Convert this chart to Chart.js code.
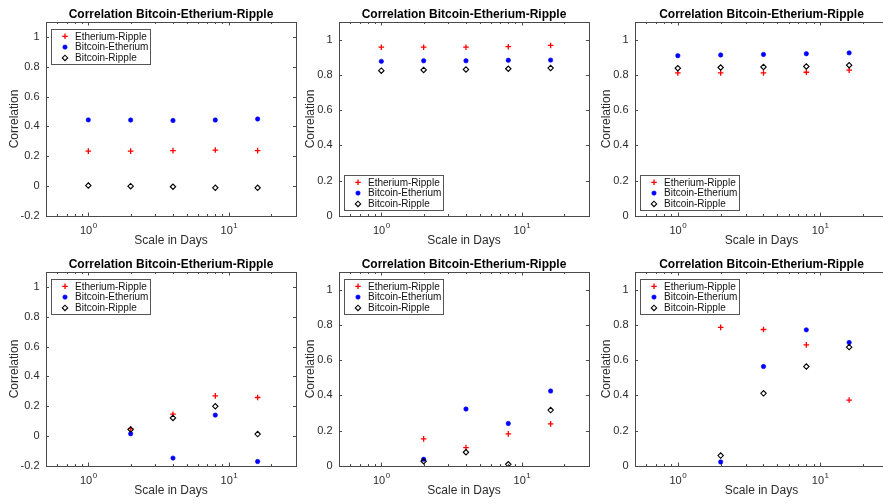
<!DOCTYPE html>
<html><head><meta charset="utf-8">
<script src="https://cdn.jsdelivr.net/npm/chart.js@4.4.1/dist/chart.umd.min.js"></script>
<style>
html,body{margin:0;padding:0;background:#fff;overflow:hidden;width:883px;height:504px;position:relative;}
canvas{position:absolute;}
</style></head><body>
<script>
// ---------- data ----------
const scaleDays = [1, 2, 4, 8, 16];
const seriesLabels = ['Etherium-Ripple', 'Bitcoin-Etherium', 'Bitcoin-Ripple'];
const chartTitle = 'Correlation Bitcoin-Etherium-Ripple';
const xAxisTitle = 'Scale in Days';
const yAxisTitle = 'Correlation';
const xMajorTicks = [1, 10];
const xMinorTicks = [0.6, 0.7, 0.8, 0.9, 2, 3, 4, 5, 6, 7, 8, 9, 20];

const p1EtheriumRipple  = [0.235, 0.235, 0.238, 0.242, 0.238];
const p1BitcoinEtherium = [0.444, 0.443, 0.440, 0.443, 0.450];
const p1BitcoinRipple   = [0.004, 0.000, -0.004, -0.011, -0.011];

const p2EtheriumRipple  = [0.957, 0.957, 0.957, 0.960, 0.967];
const p2BitcoinEtherium = [0.877, 0.880, 0.880, 0.883, 0.884];
const p2BitcoinRipple   = [0.824, 0.828, 0.831, 0.835, 0.839];

const p3EtheriumRipple  = [0.811, 0.811, 0.811, 0.815, 0.827];
const p3BitcoinEtherium = [0.909, 0.913, 0.916, 0.920, 0.925];
const p3BitcoinRipple   = [0.838, 0.842, 0.845, 0.848, 0.855];

const p4EtheriumRipple  = [null, 0.050, 0.147, 0.270, 0.259];
const p4BitcoinEtherium = [null, 0.016, -0.147, 0.141, -0.170];
const p4BitcoinRipple   = [null, 0.045, 0.122, 0.200, 0.014];

const p5EtheriumRipple  = [null, 0.154, 0.104, 0.182, 0.239];
const p5BitcoinEtherium = [null, 0.038, 0.323, 0.241, 0.425];
const p5BitcoinRipple   = [null, 0.027, 0.078, 0.010, 0.317];

const p6EtheriumRipple  = [null, 0.786, 0.774, 0.687, 0.374];
const p6BitcoinEtherium = [null, 0.023, 0.564, 0.772, 0.700];
const p6BitcoinRipple   = [null, 0.059, 0.412, 0.564, 0.674];

const yMins = [-0.2, 0, 0, -0.2, 0, 0];
const yMax = 1.1;

// ---------- layout / style ----------
const FONT = '"Liberation Sans", Arial, Helvetica, sans-serif';
Chart.defaults.font.family = FONT;
const TXT = '#2b2b2b';
const AX = '#4a4a4a';
const colLefts = [46, 339, 635];
const colWidths = [250, 250, 253];
const rowTops = [22, 272];
const PH = 194;
const AXW = 46, TH = 23, XH = 36, PADR = 8;

const panels = [
  {d: [p1EtheriumRipple, p1BitcoinEtherium, p1BitcoinRipple], legend: 'top'},
  {d: [p2EtheriumRipple, p2BitcoinEtherium, p2BitcoinRipple], legend: 'bottom'},
  {d: [p3EtheriumRipple, p3BitcoinEtherium, p3BitcoinRipple], legend: 'bottom'},
  {d: [p4EtheriumRipple, p4BitcoinEtherium, p4BitcoinRipple], legend: 'top'},
  {d: [p5EtheriumRipple, p5BitcoinEtherium, p5BitcoinRipple], legend: 'top'},
  {d: [p6EtheriumRipple, p6BitcoinEtherium, p6BitcoinRipple], legend: 'top'}
];

const markerStyles = [
  {pointStyle: 'cross', pointRadius: 2.8, borderColor: '#ff0000', backgroundColor: '#ff0000', pointBorderWidth: 1.3, order: 2},
  {pointStyle: 'circle', pointRadius: 2.2, borderColor: '#0000ff', backgroundColor: '#0000ff', pointBorderWidth: 0.6, order: 1},
  {pointStyle: 'rectRot', pointRadius: 2.7, borderColor: '#000000', backgroundColor: 'rgba(0,0,0,0)', pointBorderWidth: 1.1, order: 0}
];

const matlabPlugin = {
  id: 'matlabAxes',
  afterDatasetsDraw(chart) {
    const {ctx, chartArea: a} = chart;
    const x = chart.scales.x, y = chart.scales.y;
    ctx.save();
    ctx.strokeStyle = AX;
    ctx.lineWidth = 1;
    ctx.beginPath();
    y.ticks.forEach(t => {
      const py = Math.round(y.getPixelForValue(t.value)) + 0.5;
      ctx.moveTo(a.left, py); ctx.lineTo(a.left + 3, py);
      ctx.moveTo(a.right, py); ctx.lineTo(a.right - 3, py);
    });
    xMajorTicks.forEach(v => {
      const px = Math.round(x.getPixelForValue(v)) + 0.5;
      ctx.moveTo(px, a.bottom); ctx.lineTo(px, a.bottom - 3.5);
      ctx.moveTo(px, a.top); ctx.lineTo(px, a.top + 3.5);
    });
    xMinorTicks.forEach(v => {
      const px = Math.round(x.getPixelForValue(v)) + 0.5;
      ctx.moveTo(px, a.bottom); ctx.lineTo(px, a.bottom - 2);
      ctx.moveTo(px, a.top); ctx.lineTo(px, a.top + 2);
    });
    ctx.stroke();
    ctx.strokeRect(Math.round(a.left) + 0.5, Math.round(a.top) + 0.5, Math.round(a.right - a.left), Math.round(a.bottom - a.top));
    // x tick labels 10^n
    ctx.fillStyle = TXT;
    ctx.textBaseline = 'alphabetic';
    ctx.textAlign = 'left';
    xMajorTicks.forEach(v => {
      const px = x.getPixelForValue(v);
      const exp = String(Math.round(Math.log10(v)));
      ctx.font = '11px ' + FONT;
      const w1 = ctx.measureText('10').width;
      ctx.font = '8px ' + FONT;
      const w2 = ctx.measureText(exp).width;
      const sx = px - (w1 + w2) / 2;
      ctx.font = '11px ' + FONT;
      ctx.fillText('10', sx, a.bottom + 17.5);
      ctx.font = '8px ' + FONT;
      ctx.fillText(exp, sx + w1 + 0.5, a.bottom + 11.5);
    });
    ctx.restore();
  },
  afterDraw(chart, args, opts) {
    const {ctx, chartArea: a} = chart;
    const bw = 99, bh = 35;
    const bx = Math.round(a.left + 5) + 0.5;
    const by = opts.place === 'bottom' ? Math.round(a.bottom - 6 - bh) + 0.5 : Math.round(a.top + 7) + 0.5;
    ctx.save();
    ctx.fillStyle = '#ffffff';
    ctx.fillRect(bx, by, bw, bh);
    ctx.strokeStyle = '#555';
    ctx.lineWidth = 1;
    ctx.strokeRect(bx, by, bw, bh);
    ctx.font = '10px ' + FONT;
    ctx.textBaseline = 'middle';
    ctx.textAlign = 'left';
    chart.data.datasets.forEach((ds, i) => {
      const ry = by + 6.8 + i * 10.8;
      ctx.fillStyle = ds.backgroundColor;
      ctx.strokeStyle = ds.borderColor;
      ctx.lineWidth = ds.pointBorderWidth;
      Chart.helpers.drawPoint(ctx, {pointStyle: ds.pointStyle, radius: ds.pointRadius, borderWidth: ds.pointBorderWidth, rotation: 0}, a.left + 19, ry);
      ctx.fillStyle = '#111';
      ctx.fillText(ds.label, a.left + 29, ry + 0.5);
    });
    ctx.restore();
  }
};

panels.forEach((p, idx) => {
  const r = Math.floor(idx / 3), c = idx % 3;
  const cv = document.createElement('canvas');
  const W = AXW + colWidths[c] + PADR, H = TH + PH + XH;
  cv.width = W; cv.height = H;
  cv.style.left = (colLefts[c] - AXW) + 'px';
  cv.style.top = (rowTops[r] - TH) + 'px';
  cv.style.width = W + 'px'; cv.style.height = H + 'px';
  document.body.appendChild(cv);
  const yMin = yMins[idx];
  const yTitlePad = yMin < 0 ? 7.8 : 10.5;
  const datasets = p.d.map((vals, k) => Object.assign({
    label: seriesLabels[k],
    data: scaleDays.map((sx, i) => ({x: sx, y: vals[i]})).filter(pt => pt.y !== null),
    showLine: false
  }, markerStyles[k]));
  new Chart(cv, {
    type: 'scatter',
    data: {datasets},
    plugins: [matlabPlugin],
    options: {
      responsive: false,
      animation: false,
      devicePixelRatio: 1,
      layout: {padding: {left: 0, right: PADR, top: 0, bottom: 0}, autoPadding: false},
      plugins: {
        legend: {display: false},
        tooltip: {enabled: false},
        title: {display: true, text: chartTitle, fullSize: false, color: '#000',
          font: {size: 12, weight: 'bold', family: FONT, lineHeight: 1.0}, padding: {top: 10, bottom: 1}},
        matlabAxes: {place: p.legend}
      },
      scales: {
        x: {
          type: 'logarithmic', min: 0.5, max: 30,
          grid: {display: false, drawTicks: false},
          border: {display: false},
          ticks: {display: false},
          title: {display: true, text: xAxisTitle, color: TXT, font: {size: 12, family: FONT}, padding: {top: 0, bottom: 4.3}},
          afterFit(s) { s.height = XH; }
        },
        y: {
          type: 'linear', min: yMin, max: yMax,
          grid: {display: false, drawTicks: false},
          border: {display: false},
          ticks: {stepSize: 0.2, includeBounds: false, padding: 6.5, color: TXT, font: {size: 11, family: FONT},
            callback: v => String(Number(v.toFixed(1)))},
          title: {display: true, text: yAxisTitle, color: TXT, font: {size: 12, family: FONT}, padding: {top: yTitlePad, bottom: 0}},
          afterFit(s) { s.width = AXW; }
        }
      }
    }
  });
});
</script>
</body></html>
